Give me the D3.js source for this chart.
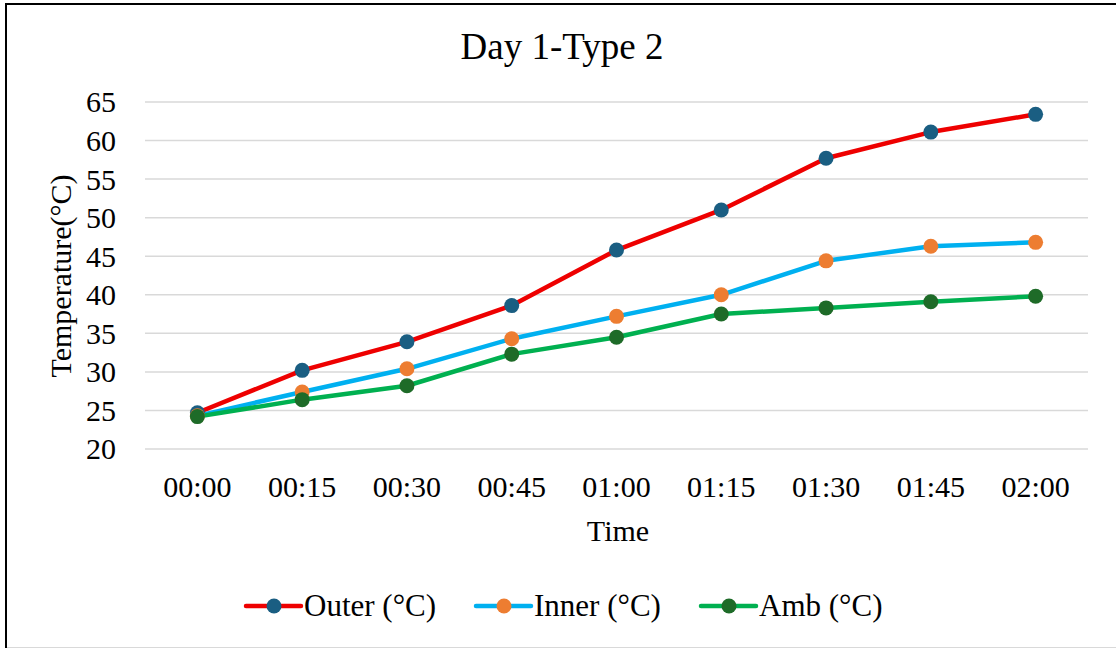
<!DOCTYPE html>
<html lang="en">
<head>
  <meta charset="UTF-8" />
  <title>Day 1-Type 2</title>
  <script src="https://d3js.org/d3.v7.min.js"></script>
  <style>
    body { margin: 0; background: #fff; }
    svg { display: block; }
    svg text { font-family: 'Liberation Serif', 'Times New Roman', serif; fill: #000; }
  </style>
</head>
<body>
<div id="chart"></div>
<script>
const times = ["00:00", "00:15", "00:30", "00:45", "01:00", "01:15", "01:30", "01:45", "02:00"];
const outer = [24.7, 30.2, 33.9, 38.6, 45.8, 51.0, 57.7, 61.1, 63.4];
const inner = [24.3, 27.4, 30.4, 34.3, 37.2, 40.0, 44.4, 46.3, 46.8];
const amb   = [24.2, 26.4, 28.2, 32.3, 34.5, 37.5, 38.3, 39.1, 39.8];
const yTicks = [20, 25, 30, 35, 40, 45, 50, 55, 60, 65];

const series = [
  { name: "Outer (°C)", values: outer, line: "#ee0000", dot: "#1a5e82" },
  { name: "Inner (°C)", values: inner, line: "#00b0f0", dot: "#ed7d31" },
  { name: "Amb (°C)",   values: amb,   line: "#00b050", dot: "#1e6b28" }
];

const W = 1116, H = 648;
const margin = { top: 102, right: 28, bottom: 199, left: 145 };
const width = W - margin.left - margin.right,
      height = H - margin.top - margin.bottom;

const svg = d3.select("#chart").append("svg")
  .attr("width", W).attr("height", H);

// frame
svg.append("line").attr("x1", 6).attr("x2", 6).attr("y1", 3).attr("y2", 648)
  .attr("stroke", "#000").attr("stroke-width", 2);
svg.append("line").attr("x1", 5).attr("x2", W).attr("y1", 4).attr("y2", 4)
  .attr("stroke", "#000").attr("stroke-width", 2);
svg.append("line").attr("x1", 7).attr("x2", W).attr("y1", 647.5).attr("y2", 647.5)
  .attr("stroke", "#d9d9d9").attr("stroke-width", 1);

const g = svg.append("g").attr("transform", `translate(${margin.left},${margin.top})`);

const x = d3.scaleBand().domain(times).range([0, width]);
const y = d3.scaleLinear().domain([20, 65]).range([height, 0]);

// gridlines
g.append("g")
  .selectAll("line")
  .data(yTicks)
  .enter().append("line")
  .attr("x1", 0).attr("x2", width)
  .attr("y1", d => y(d)).attr("y2", d => y(d))
  .attr("stroke", "#d9d9d9").attr("stroke-width", 1.5);

// y axis
const yAxis = g.append("g")
  .call(d3.axisLeft(y).tickValues(yTicks).tickSize(0).tickPadding(29));
yAxis.attr("font-family", null).attr("font-size", null);
yAxis.select(".domain").remove();
yAxis.selectAll("text").style("font-size", "30px").attr("dy", "0.33em");

// x axis
const xAxis = g.append("g").attr("transform", `translate(0,${height})`)
  .call(d3.axisBottom(x).tickSize(0));
xAxis.attr("font-family", null).attr("font-size", null);
xAxis.select(".domain").remove();
xAxis.selectAll("text").style("font-size", "30px").attr("y", 48).attr("dy", 0);

// titles
svg.append("text").attr("x", 562).attr("y", 59)
  .attr("text-anchor", "middle").style("font-size", "37px").text("Day 1-Type 2");
svg.append("text").attr("x", 618).attr("y", 541)
  .attr("text-anchor", "middle").style("font-size", "30px").text("Time");
svg.append("text")
  .attr("transform", "translate(71,276) rotate(-90)")
  .attr("text-anchor", "middle").style("font-size", "30px").text("Temperature(°C)");

// lines and markers
const cx = i => x(times[i]) + x.bandwidth() / 2;
const lineGen = d3.line().x((d, i) => cx(i)).y(d => y(d));

series.forEach(s => {
  g.append("path").datum(s.values)
    .attr("d", lineGen)
    .attr("fill", "none")
    .attr("stroke", s.line)
    .attr("stroke-width", 4.5)
    .attr("stroke-linejoin", "round")
    .attr("stroke-linecap", "round");
});
series.forEach(s => {
  g.append("g").selectAll("circle")
    .data(s.values)
    .enter().append("circle")
    .attr("cx", (d, i) => cx(i))
    .attr("cy", d => y(d))
    .attr("r", 7.5)
    .attr("fill", s.dot);
});

// legend
const legendX = [246, 476, 701];
const legend = svg.append("g").attr("transform", "translate(0,606)");
series.forEach((s, i) => {
  const lg = legend.append("g").attr("transform", `translate(${legendX[i]},0)`);
  lg.append("line").attr("x1", 0).attr("x2", 55).attr("y1", 0).attr("y2", 0)
    .attr("stroke", s.line).attr("stroke-width", 4.5).attr("stroke-linecap", "round");
  lg.append("circle").attr("cx", 28).attr("cy", 0).attr("r", 7.5).attr("fill", s.dot);
  lg.append("text").attr("x", 58).attr("y", 10).style("font-size", "31px").text(s.name);
});
</script>
</body>
</html>
